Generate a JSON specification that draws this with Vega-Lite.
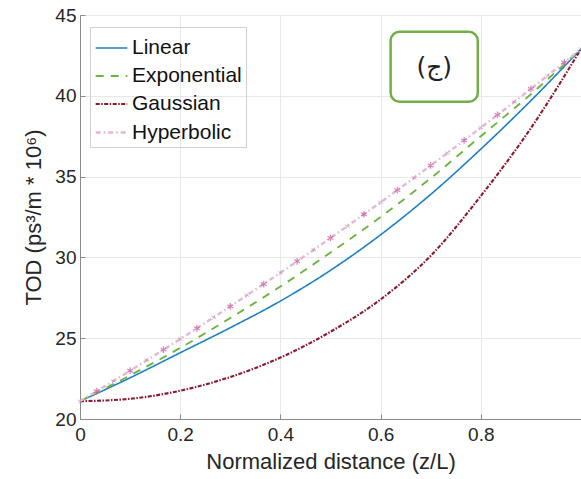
{
  "$schema": "https://vega.github.io/schema/vega-lite/v6.json",
  "autosize": {"type": "none"},
  "padding": {"left": 80, "top": 15, "right": 0, "bottom": 60},
  "width": 501,
  "height": 404,
  "background": "white",
  "config": {
    "view": {"stroke": "#8a8a8a", "strokeWidth": 1},
    "font": "Liberation Sans",
    "axis": {
      "domainColor": "#8a8a8a",
      "tickColor": "#8a8a8a",
      "gridColor": "#e8e8e8",
      "labelColor": "#262626",
      "titleColor": "#262626",
      "labelFontSize": 19,
      "titleFontSize": 22,
      "titleFontWeight": "normal",
      "tickSize": -5
    },
    "legend": {
      "labelFontSize": 21,
      "labelColor": "#111111",
      "symbolType": "stroke",
      "symbolSize": 1000,
      "rowPadding": 1,
      "strokeColor": "#d0d0d0",
      "padding": 4,
      "labelOffset": 3
    }
  },
  "datasets": {
    "curves": [
      {"x": 0.0, "TOD": 21.1, "series": "Linear"},
      {"x": 0.1, "TOD": 22.55, "series": "Linear"},
      {"x": 0.2, "TOD": 24.1, "series": "Linear"},
      {"x": 0.3, "TOD": 25.65, "series": "Linear"},
      {"x": 0.4, "TOD": 27.3, "series": "Linear"},
      {"x": 0.5, "TOD": 29.2, "series": "Linear"},
      {"x": 0.6, "TOD": 31.4, "series": "Linear"},
      {"x": 0.7, "TOD": 33.9, "series": "Linear"},
      {"x": 0.8, "TOD": 36.7, "series": "Linear"},
      {"x": 0.9, "TOD": 39.7, "series": "Linear"},
      {"x": 1.0, "TOD": 42.9, "series": "Linear"},
      {"x": 0.0, "TOD": 21.1, "series": "Exponential"},
      {"x": 0.1, "TOD": 22.7, "series": "Exponential"},
      {"x": 0.2, "TOD": 24.4, "series": "Exponential"},
      {"x": 0.3, "TOD": 26.25, "series": "Exponential"},
      {"x": 0.4, "TOD": 28.2, "series": "Exponential"},
      {"x": 0.5, "TOD": 30.3, "series": "Exponential"},
      {"x": 0.6, "TOD": 32.5, "series": "Exponential"},
      {"x": 0.7, "TOD": 34.9, "series": "Exponential"},
      {"x": 0.8, "TOD": 37.5, "series": "Exponential"},
      {"x": 0.9, "TOD": 40.1, "series": "Exponential"},
      {"x": 1.0, "TOD": 42.9, "series": "Exponential"},
      {"x": 0.0, "TOD": 21.1, "series": "Gaussian"},
      {"x": 0.1, "TOD": 21.25, "series": "Gaussian"},
      {"x": 0.2, "TOD": 21.75, "series": "Gaussian"},
      {"x": 0.3, "TOD": 22.6, "series": "Gaussian"},
      {"x": 0.4, "TOD": 23.8, "series": "Gaussian"},
      {"x": 0.5, "TOD": 25.4, "series": "Gaussian"},
      {"x": 0.6, "TOD": 27.4, "series": "Gaussian"},
      {"x": 0.7, "TOD": 30.1, "series": "Gaussian"},
      {"x": 0.8, "TOD": 33.8, "series": "Gaussian"},
      {"x": 0.9, "TOD": 38.0, "series": "Gaussian"},
      {"x": 1.0, "TOD": 42.9, "series": "Gaussian"},
      {"x": 0.0, "TOD": 21.1, "series": "Hyperbolic"},
      {"x": 0.0333, "TOD": 21.72, "series": "Hyperbolic"},
      {"x": 0.0667, "TOD": 22.35, "series": "Hyperbolic"},
      {"x": 0.1, "TOD": 22.99, "series": "Hyperbolic"},
      {"x": 0.1333, "TOD": 23.64, "series": "Hyperbolic"},
      {"x": 0.1667, "TOD": 24.29, "series": "Hyperbolic"},
      {"x": 0.2, "TOD": 24.95, "series": "Hyperbolic"},
      {"x": 0.2333, "TOD": 25.61, "series": "Hyperbolic"},
      {"x": 0.2667, "TOD": 26.29, "series": "Hyperbolic"},
      {"x": 0.3, "TOD": 26.97, "series": "Hyperbolic"},
      {"x": 0.3333, "TOD": 27.66, "series": "Hyperbolic"},
      {"x": 0.3667, "TOD": 28.35, "series": "Hyperbolic"},
      {"x": 0.4, "TOD": 29.05, "series": "Hyperbolic"},
      {"x": 0.4333, "TOD": 29.76, "series": "Hyperbolic"},
      {"x": 0.4667, "TOD": 30.48, "series": "Hyperbolic"},
      {"x": 0.5, "TOD": 31.2, "series": "Hyperbolic"},
      {"x": 0.5333, "TOD": 31.93, "series": "Hyperbolic"},
      {"x": 0.5667, "TOD": 32.67, "series": "Hyperbolic"},
      {"x": 0.6, "TOD": 33.41, "series": "Hyperbolic"},
      {"x": 0.6333, "TOD": 34.16, "series": "Hyperbolic"},
      {"x": 0.6667, "TOD": 34.92, "series": "Hyperbolic"},
      {"x": 0.7, "TOD": 35.69, "series": "Hyperbolic"},
      {"x": 0.7333, "TOD": 36.46, "series": "Hyperbolic"},
      {"x": 0.7667, "TOD": 37.24, "series": "Hyperbolic"},
      {"x": 0.8, "TOD": 38.03, "series": "Hyperbolic"},
      {"x": 0.8333, "TOD": 38.82, "series": "Hyperbolic"},
      {"x": 0.8667, "TOD": 39.62, "series": "Hyperbolic"},
      {"x": 0.9, "TOD": 40.43, "series": "Hyperbolic"},
      {"x": 0.9333, "TOD": 41.25, "series": "Hyperbolic"},
      {"x": 0.9667, "TOD": 42.07, "series": "Hyperbolic"},
      {"x": 1.0, "TOD": 42.9, "series": "Hyperbolic"}
    ],
    "note": [
      {"x1": 0.62, "x2": 0.794, "y1": 43.97, "y2": 39.63, "xc": 0.707, "yc": 41.8, "label": "(ج)"}
    ]
  },
  "layer": [
    {
      "data": {"name": "curves"},
      "mark": {"type": "line", "interpolate": "monotone", "clip": true},
      "encoding": {
        "x": {
          "field": "x", "type": "quantitative",
          "scale": {"domain": [0, 1], "nice": false},
          "axis": {"title": "Normalized distance (z/L)", "values": [0, 0.2, 0.4, 0.6, 0.8], "format": "~g", "labelPadding": 11, "titlePadding": 7, "labelFlush": false}
        },
        "y": {
          "field": "TOD", "type": "quantitative",
          "scale": {"domain": [20, 45], "nice": false, "zero": false},
          "axis": {"title": "TOD (ps³/m * 10⁶)", "values": [20, 25, 30, 35, 40, 45], "labelPadding": 9, "titlePadding": 9, "labelFlush": false}
        },
        "color": {
          "field": "series", "type": "nominal",
          "scale": {"domain": ["Linear", "Exponential", "Gaussian", "Hyperbolic"], "range": ["#1f7fc4", "#6db33f", "#8b1a2e", "#e2b8d6"]},
          "legend": {"title": null, "orient": "none", "legendX": 10, "legendY": 12}
        },
        "strokeDash": {
          "field": "series", "type": "nominal",
          "scale": {"domain": ["Linear", "Exponential", "Gaussian", "Hyperbolic"], "range": [[1, 0], [8, 7], [4, 1.5, 1.5, 1.5], [5, 3, 1.5, 3]]},
          "legend": {"title": null, "orient": "none", "legendX": 10, "legendY": 12}
        },
        "strokeWidth": {
          "field": "series", "type": "nominal",
          "scale": {"domain": ["Linear", "Exponential", "Gaussian", "Hyperbolic"], "range": [1.6, 2.4, 2.2, 0.9]},
          "legend": {"title": null, "orient": "none", "legendX": 10, "legendY": 12}
        }
      }
    },
    {
      "data": {"name": "curves"},
      "transform": [{"filter": "datum.series == 'Hyperbolic' && round(datum.x * 30) % 2 == 1"}],
      "mark": {"type": "point", "shape": "M0,-1L0,1M-0.87,-0.5L0.87,0.5M-0.87,0.5L0.87,-0.5", "size": 45, "stroke": "#c4589e", "strokeWidth": 1.2, "filled": false},
      "encoding": {
        "x": {"field": "x", "type": "quantitative"},
        "y": {"field": "TOD", "type": "quantitative"}
      }
    },
    {
      "data": {"name": "curves"},
      "transform": [{"filter": "datum.series == 'Hyperbolic' && round(datum.x * 30) % 2 == 0"}],
      "mark": {"type": "point", "shape": "M0,-1L0,1M-1,0L1,0", "size": 30, "stroke": "#b98aae", "strokeWidth": 0.8, "filled": false, "angle": 30},
      "encoding": {
        "x": {"field": "x", "type": "quantitative"},
        "y": {"field": "TOD", "type": "quantitative"}
      }
    },
    {
      "data": {"name": "note"},
      "mark": {"type": "rect", "fill": "white", "stroke": "#72ae48", "strokeWidth": 2.5, "cornerRadius": 9},
      "encoding": {
        "x": {"field": "x1", "type": "quantitative"},
        "x2": {"field": "x2"},
        "y": {"field": "y1", "type": "quantitative"},
        "y2": {"field": "y2"}
      }
    },
    {
      "data": {"name": "note"},
      "mark": {"type": "text", "font": "DejaVu Sans", "fontSize": 25, "color": "#222222", "align": "center", "baseline": "middle"},
      "encoding": {
        "x": {"field": "xc", "type": "quantitative"},
        "y": {"field": "yc", "type": "quantitative"},
        "text": {"field": "label"}
      }
    }
  ]
}
